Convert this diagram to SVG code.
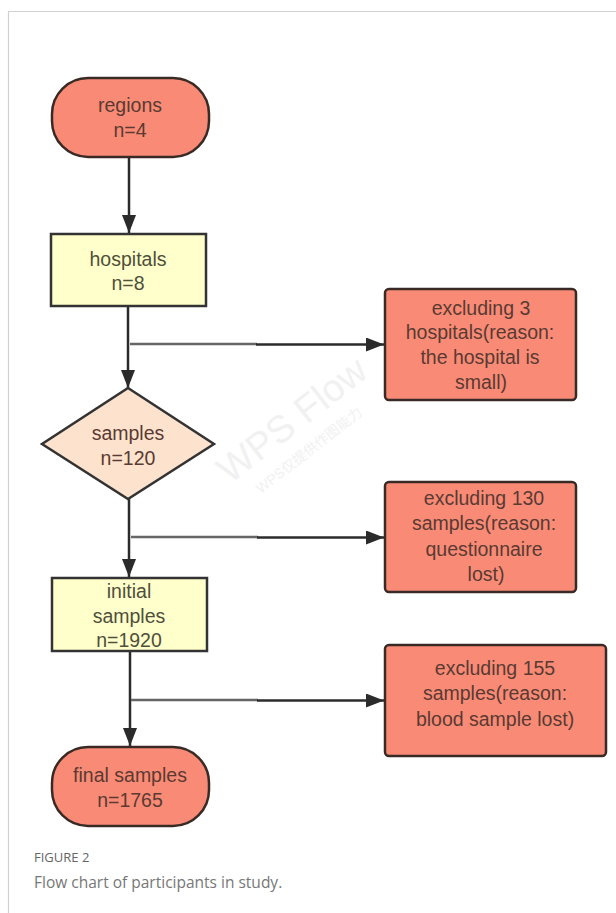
<svg xmlns="http://www.w3.org/2000/svg" width="616" height="913" viewBox="0 0 616 913">
<defs>
<marker id="arr" viewBox="0 0 18 14" refX="18" refY="7" markerWidth="18" markerHeight="14" markerUnits="userSpaceOnUse" orient="auto">
<path d="M0,0 L18,7 L0,14 Z" fill="#2b2b2b"/>
</marker>
<style>
.salmon{fill:#F98B76;stroke:#3a2a26;stroke-width:2.5}
.yellow{fill:#FFFFCC;stroke:#333;stroke-width:2.5}
.diam{fill:#FDE3CD;stroke:#333;stroke-width:2.5}
.t{font-family:"Liberation Sans",Arial,sans-serif;font-size:19.5px;text-anchor:middle}
.ts{fill:#5a3a32}
.ty{fill:#4f4f3a}
.ln{fill:none;stroke:#2b2b2b;stroke-width:2.5}
.lg{fill:none;stroke:#666;stroke-width:2.5}
</style>
</defs>
<rect width="616" height="913" fill="#fff"/>
<path d="M8.5,913 V11.5 H616" fill="none" stroke="#d0d0d0" stroke-width="1.2"/>
<g id="watermark" font-family="'Liberation Sans','Noto Sans CJK SC',sans-serif" fill="#f1f1f1">
<text x="300" y="430" font-size="38" text-anchor="middle" transform="rotate(-38 300 430)">WPS Flow</text>
<text x="312" y="454" font-size="14" text-anchor="middle" transform="rotate(-38 312 454)">WPS仅提供作图能力</text>
</g>
<g id="connectors">
<line class="ln" x1="129" y1="157" x2="129" y2="233" marker-end="url(#arr)"/>
<line class="ln" x1="128" y1="306" x2="128" y2="388" marker-end="url(#arr)"/>
<line class="lg" x1="130" y1="344" x2="257" y2="344"/>
<line class="ln" x1="256" y1="344.5" x2="384" y2="344.5" marker-end="url(#arr)"/>
<line class="ln" x1="129" y1="499" x2="129" y2="577" marker-end="url(#arr)"/>
<line class="lg" x1="131" y1="537" x2="258" y2="537"/>
<line class="ln" x1="257" y1="537.5" x2="384" y2="537.5" marker-end="url(#arr)"/>
<line class="ln" x1="130" y1="651" x2="130" y2="746" marker-end="url(#arr)"/>
<line class="lg" x1="131" y1="700" x2="258" y2="700"/>
<line class="ln" x1="257" y1="700.5" x2="384" y2="700.5" marker-end="url(#arr)"/>
</g>
<g id="regions">
<rect class="salmon" x="52" y="78" width="157" height="79" rx="36" ry="36"/>
<text class="t ts" x="130" y="112">regions</text>
<text class="t ts" x="130" y="137">n=4</text>
</g>
<g id="hospitals">
<rect class="yellow" x="51" y="234" width="155" height="72"/>
<text class="t ty" x="128" y="266">hospitals</text>
<text class="t ty" x="128" y="290">n=8</text>
</g>
<g id="exclude1">
<rect class="salmon" x="385" y="289" width="191" height="111" rx="4"/>
<text class="t ts" x="481" y="315">excluding 3</text>
<text class="t ts" x="480" y="339">hospitals(reason:</text>
<text class="t ts" x="480" y="364">the hospital is</text>
<text class="t ts" x="481" y="389">small)</text>
</g>
<g id="samples">
<polygon class="diam" points="128,388 214,444 128,499 42,444"/>
<text class="t ts" x="128" y="440">samples</text>
<text class="t ts" x="128" y="465">n=120</text>
</g>
<g id="exclude2">
<rect class="salmon" x="385" y="482" width="191" height="110" rx="4"/>
<text class="t ts" x="484" y="505">excluding 130</text>
<text class="t ts" x="484" y="530">samples(reason:</text>
<text class="t ts" x="484" y="556">questionnaire</text>
<text class="t ts" x="486" y="581">lost)</text>
</g>
<g id="initial">
<rect class="yellow" x="52" y="578" width="155" height="73"/>
<text class="t ty" x="129" y="598">initial</text>
<text class="t ty" x="129" y="623">samples</text>
<text class="t ty" x="129" y="647">n=1920</text>
</g>
<g id="exclude3">
<rect class="salmon" x="385" y="645" width="221" height="111" rx="4"/>
<text class="t ts" x="495" y="675">excluding 155</text>
<text class="t ts" x="495" y="700">samples(reason:</text>
<text class="t ts" x="495" y="726">blood sample lost)</text>
</g>
<g id="final">
<rect class="salmon" x="52" y="747" width="157" height="79" rx="36" ry="36"/>
<text class="t ts" x="130" y="782">final samples</text>
<text class="t ts" x="130" y="807">n=1765</text>
</g>
<g id="caption" font-family="'Open Sans','Noto Sans',sans-serif">
<text x="34" y="862" font-size="13" fill="#666">FIGURE 2</text>
<text x="34" y="888" font-size="15.5" fill="#777">Flow chart of participants in study.</text>
</g>
</svg>
